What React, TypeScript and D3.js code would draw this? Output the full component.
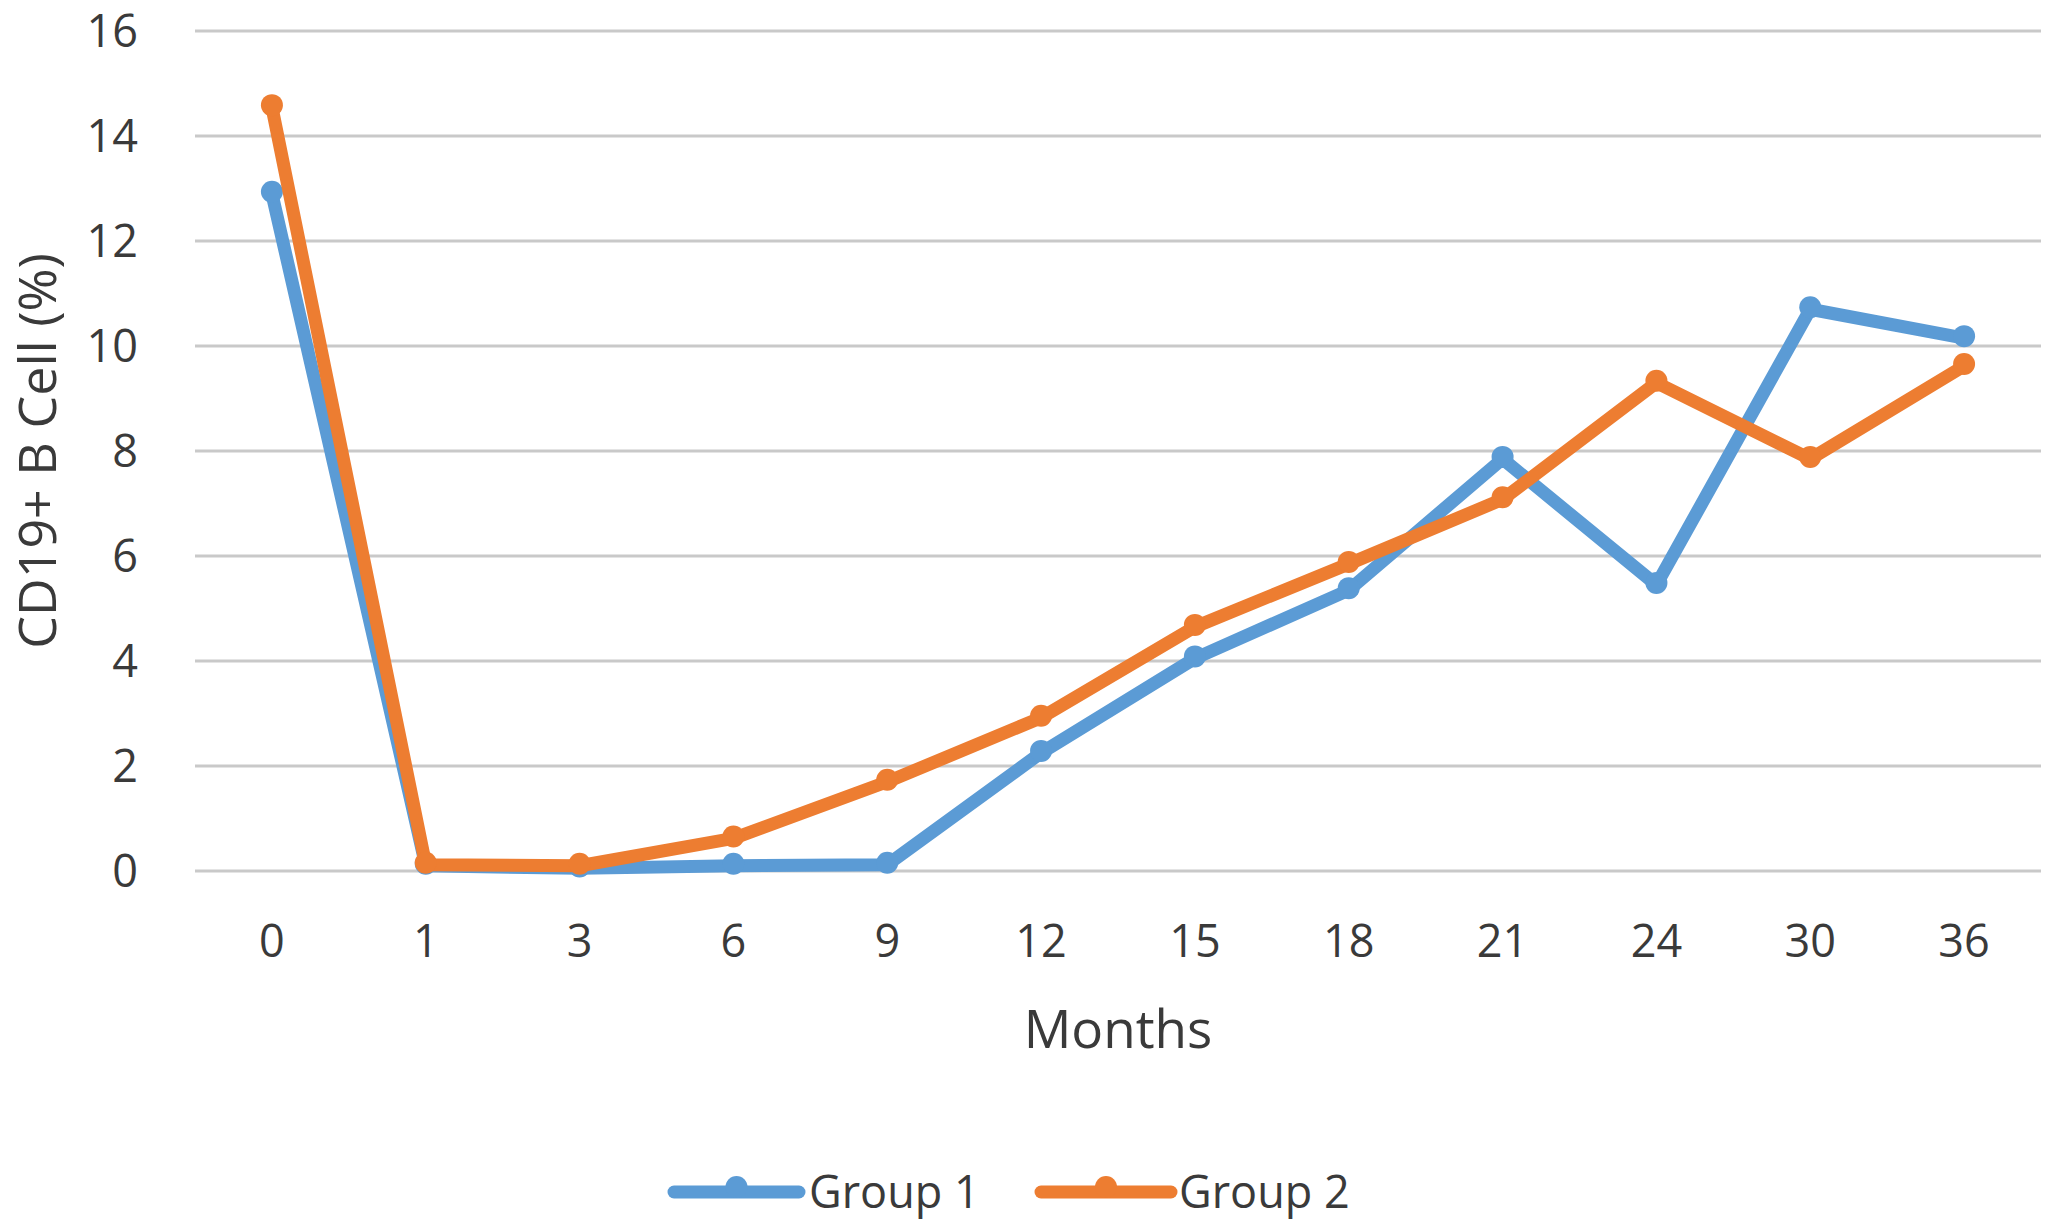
import React from "react";
import * as d3 from "d3";

const months: string[] = ["0", "1", "3", "6", "9", "12", "15", "18", "21", "24", "30", "36"];
const group1: number[] = [12.9, 0.1, 0.05, 0.1, 0.12, 2.25, 4.05, 5.35, 7.85, 5.45, 10.7, 10.15];
const group2: number[] = [14.55, 0.12, 0.1, 0.62, 1.7, 2.92, 4.65, 5.85, 7.08, 9.3, 7.85, 9.62];
const yTicks: number[] = [0, 2, 4, 6, 8, 10, 12, 14, 16];
const seriesNames: string[] = ["Group 1", "Group 2"];
const seriesColors: string[] = ["#5B9BD5", "#ED7D31"];

const W = 2047;
const H = 1221;
const FONT = "'Open Sans', 'Noto Sans', sans-serif";
const TEXT = "#3A3A3A";

export default function App() {
  const x = d3.scalePoint<string>().domain(months).range([195, 2041]).padding(0.5);
  const y = d3.scaleLinear().domain([0, 16]).range([871, 31]);
  const line = d3
    .line<number>()
    .x((_, i) => x(months[i]) as number)
    .y((d) => y(d));
  const series = [group1, group2];

  const legendItems = [
    { x1: 674, x2: 799, tx: 809 },
    { x1: 1041, x2: 1171, tx: 1179 },
  ];

  return (
    <svg
      width={W}
      height={H}
      viewBox={`0 0 ${W} ${H}`}
      style={{ position: "absolute", left: 0, top: 0, background: "#fff" }}
    >
      <rect x={0} y={0} width={W} height={H} fill="#fff" />
      {yTicks.map((t) => (
        <g key={t}>
          <line x1={195} x2={2041} y1={y(t)} y2={y(t)} stroke="#C9C9C9" strokeWidth={3} />
          <text
            x={138}
            y={y(t) + 16}
            textAnchor="end"
            fontFamily={FONT}
            fontSize={45}
            fill={TEXT}
          >
            {t}
          </text>
        </g>
      ))}
      {months.map((m) => (
        <text
          key={m}
          x={x(m) as number}
          y={957}
          textAnchor="middle"
          fontFamily={FONT}
          fontSize={45}
          fill={TEXT}
        >
          {m}
        </text>
      ))}
      <text
        x={1118}
        y={1048}
        textAnchor="middle"
        fontFamily={FONT}
        fontSize={53}
        fill={TEXT}
      >
        Months
      </text>
      <text
        transform={`translate(56, 451) rotate(-90)`}
        textAnchor="middle"
        fontFamily={FONT}
        fontSize={52}
        fill={TEXT}
      >
        CD19+ B Cell (%)
      </text>
      {series.map((s, si) => (
        <g key={si}>
          <path
            d={line(s) || ""}
            fill="none"
            stroke={seriesColors[si]}
            strokeWidth={13}
            strokeLinejoin="round"
            strokeLinecap="round"
          />
          {s.map((v, i) => (
            <circle
              key={i}
              cx={x(months[i]) as number}
              cy={y(v) - 2}
              r={11}
              fill={seriesColors[si]}
            />
          ))}
        </g>
      ))}
      {legendItems.map((li, i) => (
        <g key={i}>
          <line
            x1={li.x1}
            x2={li.x2}
            y1={1192}
            y2={1192}
            stroke={seriesColors[i]}
            strokeWidth={13}
            strokeLinecap="round"
          />
          <circle cx={(li.x1 + li.x2) / 2} cy={1187} r={11} fill={seriesColors[i]} />
          <text x={li.tx} y={1208} fontFamily={FONT} fontSize={45} fill={TEXT}>
            {seriesNames[i]}
          </text>
        </g>
      ))}
    </svg>
  );
}
